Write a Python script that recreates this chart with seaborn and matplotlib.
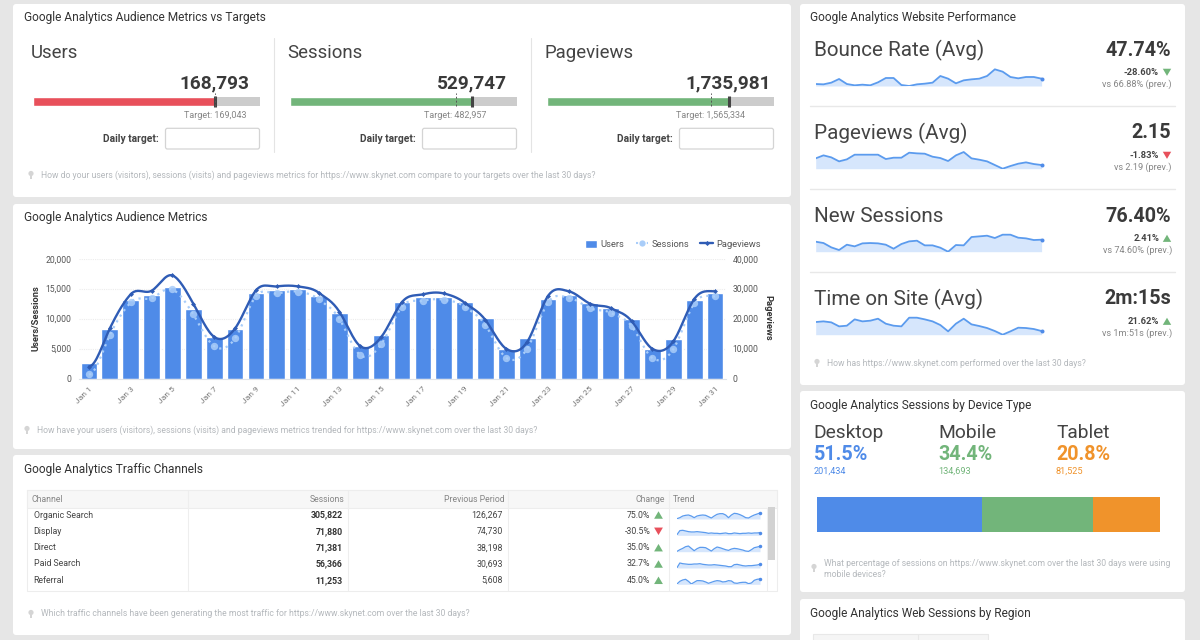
import numpy as np
import pandas as pd
import matplotlib
matplotlib.use("Agg")
import matplotlib.pyplot as plt
from matplotlib.patches import Rectangle, Polygon, FancyBboxPatch, Circle
from matplotlib.lines import Line2D
from matplotlib.patches import Patch
import seaborn as sns

# ---------- data ----------
days = [f"Jan {d}" for d in range(1, 32)]
users = [2650, 8300, 13100, 13870, 15260, 11600, 6900, 8200, 14200, 14760, 15000, 13800, 10860, 5500, 7300, 12800,
         13600, 13600, 12750, 10030, 4900, 6700, 13260, 13980, 12530, 11700, 9860, 4900, 6570, 13150, 14200]
sessions = [670, 7240, 12700, 13400, 14870, 10700, 5400, 6700, 13760, 14200, 14500, 13260, 9970, 3900, 5700, 12000,
            13000, 13150, 12000, 8900, 3450, 5000, 12700, 13480, 11750, 10970, 8750, 3400, 4900, 12530, 13700]
pageviews = [4000, 16700, 28100, 29300, 34400, 25000, 13900, 16700, 29400, 30750, 30750, 28700, 22300, 10800, 13800,
             25500, 28100, 28400, 25300, 19500, 9900, 12250, 27600, 29100, 25000, 23500, 19200, 9900, 12400, 26500, 29100]

bullet_names = ["Users", "Sessions", "Pageviews"]
bullet_values = [168793, 529747, 1735981]
bullet_targets = [169043, 482957, 1565334]
bullet_labels = ["168,793", "529,747", "1,735,981"]
bullet_target_labels = ["Target: 169,043", "Target: 482,957", "Target: 1,565,334"]
bullet_colors = ["#e8505b", "#72b57a", "#72b57a"]

perf_names = ["Bounce Rate (Avg)", "Pageviews (Avg)", "New Sessions", "Time on Site (Avg)"]
perf_values = ["47.74%", "2.15", "76.40%", "2m:15s"]
perf_changes = ["-28.60%", "-1.83%", "2.41%", "21.62%"]
perf_prev = ["vs 66.88% (prev.)", "vs 2.19 (prev.)", "vs 74.60% (prev.)", "vs 1m:51s (prev.)"]
spark_bounce = [6, 5, 10, 21, 6, 2, 4, 2, 11, 24, 24, 3, 0, 5, 7, 10, 30, 22, 8, 17, 20, 22, 30, 50, 43, 27, 23, 27, 27, 22]
spark_pages = [31, 40, 34, 22, 28, 42, 42, 42, 42, 29, 33, 33, 48, 46, 45, 36, 32, 23, 40, 50, 31, 27, 22, 11, 0, 8, 15, 19, 14, 11]
spark_new = [30, 26, 13, 5, 21, 16, 25, 26, 25, 21, 9, 23, 31, 33, 19, 19, 12, 0, 20, 19, 44, 46, 48, 41, 51, 51, 42, 40, 35, 36]
spark_time = [38, 40, 37, 25, 27, 46, 40, 42, 48, 33, 27, 25, 51, 51, 46, 40, 29, 10, 33, 48, 31, 26, 20, 11, 0, 10, 21, 20, 17, 11]

device_names = ["Desktop", "Mobile", "Tablet"]
device_pct = ["51.5%", "34.4%", "20.8%"]
device_sessions = [201434, 134693, 81525]
device_labels = ["201,434", "134,693", "81,525"]
device_colors = ["#4f8be8", "#72b57a", "#f0932b"]

channels = ["Organic Search", "Display", "Direct", "Paid Search", "Referral"]
ch_sessions = ["305,822", "71,880", "71,381", "56,366", "11,253"]
ch_prev = ["126,267", "74,730", "38,198", "30,693", "5,608"]
ch_change = ["75.0%", "-30.5%", "35.0%", "32.7%", "45.0%"]
ch_up = [True, False, True, True, True]
trend_organic = [1, 4, 9, 11, 12, 9, 4, 9, 11, 12, 11, 7, 3, 9, 14, 16, 16, 12, 4, 12, 17, 16, 13, 9, 4, 3, 8, 12, 15, 18]
trend_display = [2, 14, 15, 13, 11, 10, 10, 11, 10, 9, 8, 6, 7, 6, 6, 5, 6, 7, 5, 5, 7, 6, 5, 6, 6, 7, 6, 7, 7, 8]
trend_direct = [1, 6, 10, 15, 17, 10, 3, 9, 13, 13, 12, 7, 2, 9, 14, 12, 9, 6, 4, 8, 10, 9, 7, 5, 2, 1, 6, 12, 14, 16]
trend_paid = [1, 15, 13, 12, 11, 11, 12, 12, 13, 11, 10, 9, 9, 10, 9, 8, 7, 6, 4, 4, 10, 11, 9, 7, 6, 7, 7, 8, 9, 11]
trend_referral = [1, 9, 13, 15, 9, 1, 6, 11, 11, 10, 7, 3, 6, 9, 11, 10, 7, 8, 11, 10, 4, 3, 5, 6, 6, 2, 4, 12, 15, 16]

# ---------- style ----------
sns.set_theme(style="white")
FONT = ["Roboto", "DejaVu Sans"]
plt.rcParams["font.family"] = FONT
W, H = 1200, 640
PX = 72 / 100
fig = plt.figure(figsize=(W / 100, H / 100), dpi=100, facecolor="#e6e6e6")

bg = fig.add_axes([0, 0, 1, 1], zorder=0)
bg.set_xlim(0, W); bg.set_ylim(H, 0); bg.axis("off")


def box(x0, y0, x1, y1, zorder=2):
    a = fig.add_axes([x0 / W, 1 - y1 / H, (x1 - x0) / W, (y1 - y0) / H], zorder=zorder)
    a.patch.set_alpha(0)
    return a


def T(x, y, s, px, color="#444444", weight="normal", ha="left", va="center", **kw):
    return bg.text(x, y, s, fontsize=px * PX, color=color, fontweight=weight, ha=ha, va=va, **kw)


def panel(x0, y0, x1, y1):
    bg.add_patch(FancyBboxPatch((x0 + 2, y0 + 2), x1 - x0 - 4, y1 - y0 - 4, boxstyle="round,pad=2,rounding_size=3",
                                fc="white", ec="none", zorder=0.5))


def tri(x, y, up, color, s=5):
    if up:
        pts = [(x - s, y + s * .85), (x + s, y + s * .85), (x, y - s * .85)]
    else:
        pts = [(x - s, y - s * .85), (x + s, y - s * .85), (x, y + s * .85)]
    bg.add_patch(Polygon(pts, closed=True, fc=color, ec="none", zorder=3))


def bulb(x, y):
    bg.add_patch(Circle((x, y - 1.5), 2.6, fc="#d5d5d5", ec="none", zorder=3))
    bg.add_patch(Rectangle((x - 1.2, y), 2.4, 3.5, fc="#d5d5d5", ec="none", zorder=3))


HINT = 8.62


def hint(x, y, s):
    bulb(x, y)
    T(x + 10, y, s, HINT, color="#b4b8bc")


def spark(x0, y0, x1, y1, vals, ymax, lw=1.3, ms=4):
    a = box(x0, y0, x1, y1)
    a.axis("off")
    df = pd.DataFrame({"i": np.arange(len(vals)), "v": vals})
    a.fill_between(df["i"], df["v"], 0, color="#d6e6fc", lw=0)
    sns.lineplot(data=df, x="i", y="v", ax=a, color="#5b9bee", lw=lw, legend=False)
    a.plot(df["i"].iloc[-1], df["v"].iloc[-1], "o", color="#4f8be8", ms=ms * PX, mew=0, clip_on=False)
    a.set_xlim(0, len(vals) - 1); a.set_ylim(0, ymax)


def smooth(y, n=16, k=1.5):
    """Spline through the data points, tangents as in a Highcharts spline."""
    y = np.asarray(y, float)
    xs, ys = [], []
    m = len(y)
    tan = np.zeros(m)
    for i in range(1, m - 1):
        d0, d1 = y[i] - y[i - 1], y[i + 1] - y[i]
        left, right = y[i] - d0 / (1 + k), y[i] + d1 / (1 + k)
        tan[i] = (right - left) * (1 + k) / 2
    t = np.linspace(0, 1, n, endpoint=False)
    for i in range(m - 1):
        p0, p3 = y[i], y[i + 1]
        p1, p2 = p0 + tan[i] / (1 + k), p3 - tan[i + 1] / (1 + k)
        ys.append((1 - t) ** 3 * p0 + 3 * (1 - t) ** 2 * t * p1 + 3 * (1 - t) * t ** 2 * p2 + t ** 3 * p3)
        xs.append(i + t)
    return np.r_[np.concatenate(xs), m - 1], np.r_[np.concatenate(ys), y[-1]]


# ---------- panels ----------
for p in [(13, 4, 791, 197), (13, 204, 791, 449), (13, 455, 791, 635), (800, 4, 1185, 385), (800, 391, 1185, 592), (800, 599, 1185, 660)]:
    panel(*p)

TITLE = 11.85
T(24, 17, "Google Analytics Audience Metrics vs Targets", TITLE, color="#333333")
T(24, 217, "Google Analytics Audience Metrics", TITLE, color="#333333")
T(24, 469, "Google Analytics Traffic Channels", TITLE, color="#333333")
T(810, 17, "Google Analytics Website Performance", TITLE, color="#333333")
T(810, 405, "Google Analytics Sessions by Device Type", TITLE, color="#333333")
T(810, 613, "Google Analytics Web Sessions by Region", TITLE, color="#333333")
# top edge of the table that the crop cuts off in the region panel
bg.add_patch(Rectangle((813, 634), 175, 8, fc="#f5f5f5", ec="#e8e8e8", lw=0.8, zorder=1))
bg.plot([918, 918], [634, 640], color="#e8e8e8", lw=0.8, zorder=1.2)

# ---------- bullets ----------
bx = [33, 290, 547]
BW = 227
for i, name in enumerate(bullet_names):
    x0 = bx[i]
    full = bullet_values[i] / 0.8
    T(x0 - 2.5, 53, name, 18.7, color="#444444")
    T(x0 + BW * bullet_values[i] / full, 83, bullet_labels[i], 19, color="#3a3a3a", weight="bold", ha="center")
    a = box(x0, 96.7, x0 + BW, 106)
    d = pd.DataFrame({"m": [name], "v": [bullet_values[i]]})
    a.barh([0], [full], height=1, color="#cccccc", lw=0)
    sns.barplot(data=d, y="m", x="v", ax=a, color=bullet_colors[i], width=1, saturation=1, orient="h")
    a.plot([bullet_values[i]] * 2, [-0.6, 0.6], color="#444444", lw=2.2, clip_on=False, solid_capstyle="butt")
    a.plot([bullet_targets[i]] * 2, [-0.5, 0.95], color="#555555", lw=0.7, ls=(0, (2, 2)), clip_on=False)
    a.set_xlim(0, full); a.set_ylim(-0.5, 0.5); a.axis("off")
    T(x0 + BW * bullet_targets[i] / full, 115, bullet_target_labels[i], 9, color="#858585", ha="center")
    T(x0 + 125.7, 138.5, "Daily target:", 10.2, color="#444444", weight="bold", ha="right")
    bg.add_patch(FancyBboxPatch((x0 + 132.5, 128.3), 94, 20.7, boxstyle="round,pad=0,rounding_size=2", fc="white",
                                ec="#d4d4d4", lw=0.9, zorder=2))
for x in [273.5, 530.5]:
    bg.plot([x, x], [38, 152], color="#e4e4e4", lw=0.8, zorder=1)
hint(31, 175, "How do your users (visitors), sessions (visits) and pageviews metrics for https://www.skynet.com compare to your targets over the last 30 days?")

# ---------- combo chart ----------
ax = box(78.5, 258.7, 725.5, 378.5)
df = pd.DataFrame({"day": days, "users": users, "sessions": sessions, "pageviews": pageviews})
sns.barplot(data=df, x="day", y="users", ax=ax, color="#4f8be8", saturation=1, width=0.8, zorder=2)
ax.set_ylim(0, 20000); ax.set_xlim(-0.5, 30.5)
ax.set_yticks([0, 5000, 10000, 15000, 20000])
ax.set_yticklabels(["0", "5,000", "10,000", "15,000", "20,000"], fontsize=8.6 * PX, color="#555555")
ax.set_xticks(range(0, 31, 2))
ax.set_xticklabels(days[::2], rotation=45, ha="right", rotation_mode="anchor", fontsize=8.4 * PX, color="#777777")
ax.tick_params(axis="both", length=0, pad=5)
ax.grid(axis="y", color="#ececec", lw=0.8, ls=(0, (1, 1)))
ax.set_axisbelow(True)
for s in ["top", "left", "right"]:
    ax.spines[s].set_visible(False)
ax.spines["bottom"].set_color("#dfe3e8"); ax.spines["bottom"].set_linewidth(0.8)
xs, ys = smooth(sessions)
ax.plot(xs, ys, color="#a9cdf9", lw=1.6, ls=(0, (1, 2)), zorder=3, clip_on=False)
sns.scatterplot(data=df, x="day", y="sessions", ax=ax, color="#a9cdf9", s=28, lw=0, alpha=0.85, zorder=3, clip_on=False, legend=False)
ax.set_xlabel(""); ax.set_ylabel("")

ax2 = ax.twinx()
ax2.patch.set_alpha(0)
ax2.set_ylim(0, 40000)
ax2.set_yticks([0, 10000, 20000, 30000, 40000])
ax2.set_yticklabels(["0", "10,000", "20,000", "30,000", "40,000"], fontsize=8.6 * PX, color="#555555")
ax2.tick_params(axis="y", length=0, pad=5)
for s in ax2.spines.values():
    s.set_visible(False)
xs, ys = smooth(pageviews)
ax2.plot(xs, ys, color="#2f5cb5", lw=1.7, zorder=4, clip_on=False)
ax2.plot(range(31), pageviews, ls="", marker="D", ms=2.5, mew=0, color="#2f5cb5", zorder=4, clip_on=False)
ax2.grid(False)
T(36, 318, "Users/Sessions", 9.4, color="#333333", weight="bold", ha="center", rotation=90)
T(767.5, 318, "Pageviews", 9.4, color="#333333", weight="bold", ha="center", rotation=270)
handles = [Patch(fc="#4f8be8", label="Users"),
           Line2D([], [], color="#a9cdf9", lw=1.5, ls=(0, (1, 1.6)), marker="o", ms=4.5, mew=0, label="Sessions"),
           Line2D([], [], color="#2f5cb5", lw=1.7, marker="D", ms=2.6, mew=0, label="Pageviews")]
leg = ax2.legend(handles=handles, ncol=3, frameon=False, fontsize=9.4 * PX, loc="lower right",
                 bbox_to_anchor=(1.055, 1.08), handlelength=1.3, handleheight=1.0, handletextpad=0.4, columnspacing=1.18,
                 labelcolor="#555555", borderpad=0, borderaxespad=0)
hint(27, 430, "How have your users (visitors), sessions (visits) and pageviews metrics trended for https://www.skynet.com over the last 30 days?")

# ---------- table ----------
TX0, TX1 = 27, 777
bg.add_patch(Rectangle((TX0, 490.3), TX1 - TX0, 100.7, fc="white", ec="#ededed", lw=0.8, zorder=1))
bg.add_patch(Rectangle((TX0, 490.3), TX1 - TX0, 17.4, fc="#f7f7f7", ec="#ededed", lw=0.8, zorder=1))
for x in [188.3, 348.3, 508.3, 669.3, 766.7]:
    bg.plot([x, x], [490.3 if x < 700 else 507.7, 591], color="#eeeeee", lw=0.8, zorder=1.2)
bg.add_patch(Rectangle((768, 507), 7, 53, fc="#d2d2d2", ec="none", zorder=2))
HY = 499
T(31, HY, "Channel", 8.7, color="#858585")
T(344.5, HY, "Sessions", 8.7, color="#858585", ha="right")
T(505, HY, "Previous Period", 8.7, color="#858585", ha="right")
T(665, HY, "Change", 8.7, color="#858585", ha="right")
T(673, HY, "Trend", 8.7, color="#858585")
trends = [trend_organic, trend_display, trend_direct, trend_paid, trend_referral]
for i, rowy in enumerate([515, 531.3, 547.7, 564, 580.3]):
    T(33.5, rowy, channels[i], 8.8, color="#444444")
    T(342.5, rowy, ch_sessions[i], 8.8, color="#333333", weight="bold", ha="right")
    T(503, rowy, ch_prev[i], 8.8, color="#444444", ha="right")
    T(650.5, rowy, ch_change[i], 8.8, color="#444444", ha="right")
    tri(658.5, rowy, ch_up[i], "#72b57a" if ch_up[i] else "#e8505b", s=4.4)
    spark(677, rowy - 6, 760, rowy + 4, trends[i], 30, lw=0.9, ms=3.5)
hint(31, 614, "Which traffic channels have been generating the most traffic for https://www.skynet.com over the last 30 days?")

# ---------- performance ----------
perf_y = [50, 133, 216, 299]
sparks = [spark_bounce, spark_pages, spark_new, spark_time]
base_y = [86, 168.7, 251.7, 334.7]
for i, y in enumerate(perf_y):
    T(813.5, y, perf_names[i], 20.7, color="#444444")
    T(1171, y, perf_values[i], 19.8, color="#3a3a3a", weight="bold", ha="right")
    T(1159, y + 22.3, perf_changes[i], 9.4, color="#444444", weight="bold", ha="right")
    up = perf_changes[i][0] != "-"
    good = i in (0, 2, 3)
    tri(1167, y + 22.3, up, "#72b57a" if good else "#e8505b", s=4.2)
    T(1172, y + 34.5, perf_prev[i], 9.2, color="#858585", ha="right")
    spark(815.7, base_y[i] - 20, 1041.6, base_y[i], sparks[i], 60, lw=1.3, ms=4)
for y in [106, 189, 272]:
    bg.plot([810, 1175], [y, y], color="#e8e8e8", lw=1, zorder=1)
hint(817, 363, "How has https://www.skynet.com performed over the last 30 days?")

# ---------- device ----------
dx = [813.5, 938.5, 1056]
for i, name in enumerate(device_names):
    T(dx[i], 433.5, name, 19.2, color="#444444")
    T(dx[i], 455, device_pct[i], 19.8, color=device_colors[i], weight="bold")
    T(dx[i], 471.5, device_labels[i], 9.2, color=device_colors[i])
a = box(816.7, 496.7, 1159.7, 531.7)
left = 0
for n, v, c in zip(device_names, device_sessions, device_colors):
    a.barh([0], [v], left=left, height=1, color=c, lw=0, label=n)
    left += v
a.set_xlim(0, left); a.set_ylim(-.5, .5); a.axis("off")
bulb(814, 568)
T(824, 563, "What percentage of sessions on https://www.skynet.com over the last 30 days were using", HINT, color="#b4b8bc")
T(824, 574.5, "mobile devices?", HINT, color="#b4b8bc")

fig.savefig("out.png", dpi=100, facecolor=fig.get_facecolor())
